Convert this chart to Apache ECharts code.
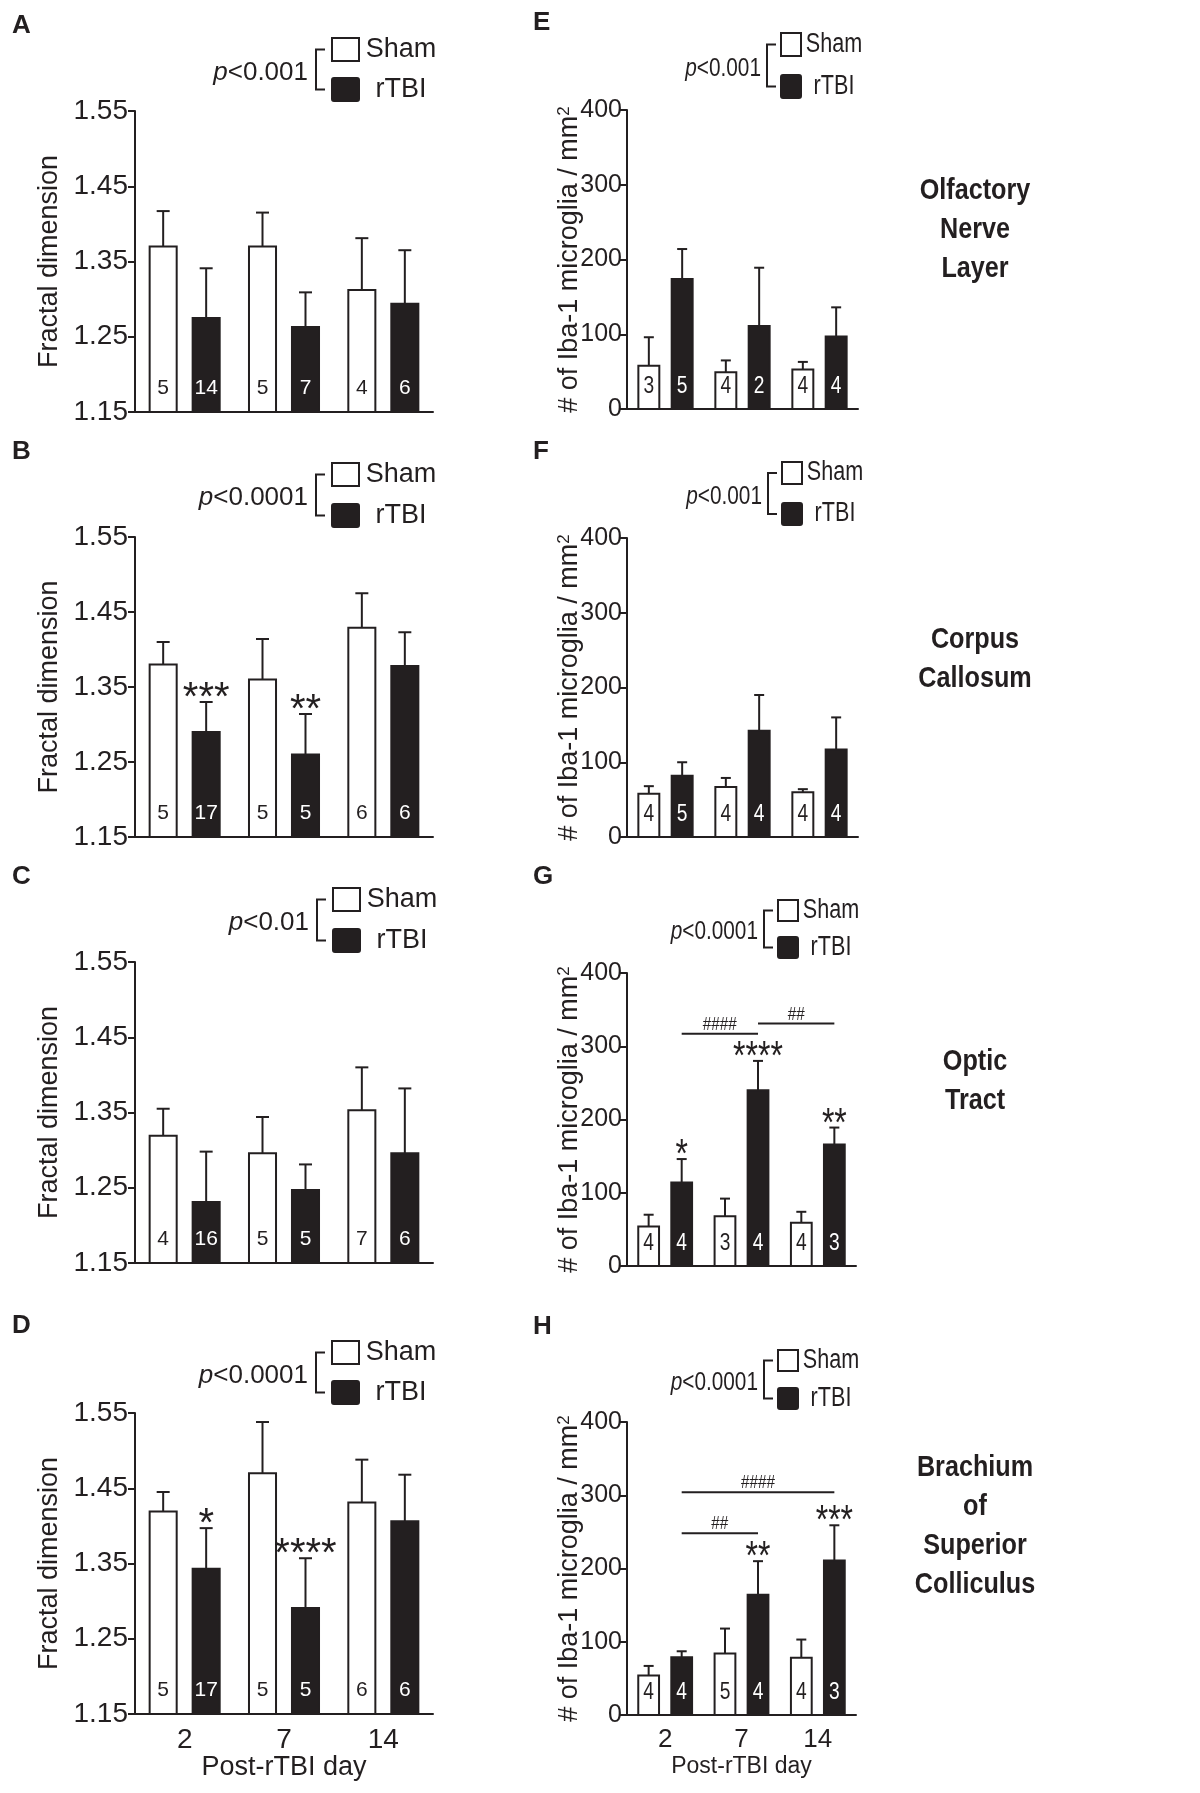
<!DOCTYPE html>
<html><head><meta charset="utf-8">
<script src="https://cdn.jsdelivr.net/npm/echarts@6/dist/echarts.min.js"></script>
<style>html,body{margin:0;padding:0;background:#fff}#c{width:1200px;height:1793px}</style>
</head><body><div id="c"></div>
<script>
// ---------- data ----------
const days = ['2', '7', '14'];
const fractalTicks = [1.15, 1.25, 1.35, 1.45, 1.55];
const countTicks = [0, 100, 200, 300, 400];

// A: Olfactory nerve layer, fractal dimension
const shamA = [1.370, 1.370, 1.312];
const shamErrA = [0.047, 0.045, 0.069];
const rtbiA = [1.275, 1.263, 1.294];
const rtbiErrA = [0.066, 0.046, 0.071];
const nShamA = [5, 5, 4];
const nRtbiA = [14, 7, 6];
const starsA = ['', '', ''];
const pA = '<0.001';

// B: Corpus callosum, fractal dimension
const shamB = [1.380, 1.360, 1.429];
const shamErrB = [0.030, 0.054, 0.046];
const rtbiB = [1.290, 1.260, 1.378];
const rtbiErrB = [0.040, 0.054, 0.045];
const nShamB = [5, 5, 6];
const nRtbiB = [17, 5, 6];
const starsB = ['***', '**', ''];
const pB = '<0.0001';

// C: Optic tract, fractal dimension
const shamC = [1.319, 1.296, 1.353];
const shamErrC = [0.036, 0.048, 0.057];
const rtbiC = [1.231, 1.247, 1.296];
const rtbiErrC = [0.067, 0.034, 0.086];
const nShamC = [4, 5, 7];
const nRtbiC = [16, 5, 6];
const starsC = ['', '', ''];
const pC = '<0.01';

// D: Brachium of superior colliculus, fractal dimension
const shamD = [1.419, 1.470, 1.431];
const shamErrD = [0.026, 0.068, 0.057];
const rtbiD = [1.343, 1.291, 1.406];
const rtbiErrD = [0.054, 0.066, 0.062];
const nShamD = [5, 5, 6];
const nRtbiD = [17, 5, 6];
const starsD = ['*', '****', ''];
const pD = '<0.0001';

// E: Olfactory nerve layer, Iba-1 count
const shamE = [58, 49, 53];
const shamErrE = [38, 16, 10];
const rtbiE = [174, 111, 97];
const rtbiErrE = [40, 78, 39];
const nShamE = [3, 4, 4];
const nRtbiE = [5, 2, 4];
const starsE = ['', '', ''];
const pE = '<0.001';

// F: Corpus callosum, Iba-1 count
const shamF = [58, 67, 60];
const shamErrF = [10, 12, 4];
const rtbiF = [82, 142, 117];
const rtbiErrF = [18, 48, 43];
const nShamF = [4, 4, 4];
const nRtbiF = [5, 4, 4];
const starsF = ['', '', ''];
const pF = '<0.001';

// G: Optic tract, Iba-1 count
const shamG = [54, 68, 59];
const shamErrG = [16, 24, 15];
const rtbiG = [114, 240, 166];
const rtbiErrG = [32, 40, 23];
const nShamG = [4, 3, 4];
const nRtbiG = [4, 4, 3];
const starsG = ['*', '****', '**'];
const pG = '<0.0001';
const bracketsG = [[0, 317, 1], [1, 331, 2]];
const bracketTextG = ['####', '##'];

// H: Brachium of superior colliculus, Iba-1 count
const shamH = [54, 84, 78];
const shamErrH = [13, 34, 25];
const rtbiH = [79, 164, 211];
const rtbiErrH = [8, 46, 48];
const nShamH = [4, 5, 4];
const nRtbiH = [4, 4, 3];
const starsH = ['', '**', '***'];
const pH = '<0.0001';
const bracketsH = [[0, 248, 1], [0, 304, 2]];
const bracketTextH = ['##', '####'];

const regionLabels = ['Olfactory\nNerve\nLayer', 'Corpus\nCallosum', 'Optic\nTract', 'Brachium\nof\nSuperior\nColliculus'];

// ---------- styling ----------
const INK = '#231f20';
const SANS = "'Liberation Sans', Arial, Helvetica, sans-serif";
const NS = 0.8; // horizontal squeeze used for the condensed lettering of the right column
const CAT_GAP = 0.295, BAR_GAP = 0.59;

const panels = [
  {L:'A', right:false, grid:{left:135, top:111, width:298, height:301}, sham:shamA, shamErr:shamErrA, rtbi:rtbiA, rtbiErr:rtbiErrA, nSham:nShamA, nRtbi:nRtbiA, stars:starsA, p:pA, lg:[332, 38, 40, 23, 27], letter:[12, 26], showX:false},
  {L:'B', right:false, grid:{left:135, top:537, width:298, height:300}, sham:shamB, shamErr:shamErrB, rtbi:rtbiB, rtbiErr:rtbiErrB, nSham:nShamB, nRtbi:nRtbiB, stars:starsB, p:pB, lg:[332, 463, 41, 23, 27], letter:[12, 452], showX:false},
  {L:'C', right:false, grid:{left:135, top:962, width:298, height:301}, sham:shamC, shamErr:shamErrC, rtbi:rtbiC, rtbiErr:rtbiErrC, nSham:nShamC, nRtbi:nRtbiC, stars:starsC, p:pC, lg:[333, 888, 41, 23, 27], letter:[12, 877], showX:false},
  {L:'D', right:false, grid:{left:135, top:1413, width:298, height:301}, sham:shamD, shamErr:shamErrD, rtbi:rtbiD, rtbiErr:rtbiErrD, nSham:nShamD, nRtbi:nRtbiD, stars:starsD, p:pD, lg:[332, 1341, 40, 23, 27], letter:[12, 1326], showX:true},
  {L:'E', right:true, grid:{left:627, top:110, width:231, height:299}, sham:shamE, shamErr:shamErrE, rtbi:rtbiE, rtbiErr:rtbiErrE, nSham:nShamE, nRtbi:nRtbiE, stars:starsE, p:pE, lg:[781, 33, 42, 23, 20], letter:[533, 23], showX:false, region:0, regionY:230},
  {L:'F', right:true, grid:{left:627, top:538, width:231, height:299}, sham:shamF, shamErr:shamErrF, rtbi:rtbiF, rtbiErr:rtbiErrF, nSham:nShamF, nRtbi:nRtbiF, stars:starsF, p:pF, lg:[782, 462, 41, 22, 20], letter:[533, 452], showX:false, region:1, regionY:659},
  {L:'G', right:true, grid:{left:627, top:973, width:229, height:293}, sham:shamG, shamErr:shamErrG, rtbi:rtbiG, rtbiErr:rtbiErrG, nSham:nShamG, nRtbi:nRtbiG, stars:starsG, p:pG, lg:[778, 900, 37, 21, 20], letter:[533, 877], showX:false, region:2, regionY:1081, brackets:bracketsG, bracketText:bracketTextG},
  {L:'H', right:true, grid:{left:627, top:1422, width:229, height:293}, sham:shamH, shamErr:shamErrH, rtbi:rtbiH, rtbiErr:rtbiErrH, nSham:nShamH, nRtbi:nRtbiH, stars:starsH, p:pH, lg:[778, 1350, 38, 21, 20], letter:[533, 1327], showX:true, region:3, regionY:1526, brackets:bracketsH, bracketText:bracketTextH}
];

function barRender(p, g) {
  const right = p.right;
  const sx = right ? NS : 1;
  const errs = g === 0 ? p.shamErr : p.rtbiErr;
  const ns = g === 0 ? p.nSham : p.nRtbi;
  const minV = right ? countTicks[0] : fractalTicks[0];
  return function (params, api) {
    const i = params.dataIndex;
    const cat = api.value(0), val = api.value(1);
    const W = api.size([1, 0])[0];
    const bw = W * (1 - CAT_GAP) / (2 + BAR_GAP);
    const off = (g === 0 ? -1 : 1) * bw * (1 + BAR_GAP) / 2;
    const base = api.coord([cat, minV]);
    const top = api.coord([cat, val]);
    const x = top[0] + off;
    const et = api.coord([cat, val + errs[i]]);
    const cap = right ? 10 : 13;
    const children = [
      {type:'line', shape:{x1:x, y1:top[1], x2:x, y2:et[1]}, style:{stroke:INK, lineWidth:2}},
      {type:'line', shape:{x1:x - cap / 2, y1:et[1], x2:x + cap / 2, y2:et[1]}, style:{stroke:INK, lineWidth:2}},
      {type:'rect', shape:{x:x - bw / 2, y:top[1], width:bw, height:base[1] - top[1]}, style:{fill:g === 0 ? '#fff' : INK, stroke:INK, lineWidth:2}},
      {type:'text', x:x, y:base[1] - (right ? 22.5 : 23.5), scaleX:sx, style:{text:String(ns[i]), fill:g === 0 ? INK : '#fff', fontSize:right ? 24 : 21, fontFamily:SANS, align:'center', verticalAlign:'middle'}}
    ];
    if (g === 1 && p.stars[i]) {
      children.push({type:'text', x:x, y:et[1] - 3, scaleX:sx, style:{text:p.stars[i], fill:INK, fontSize:right ? 40 : 40, fontFamily:SANS, align:'center', verticalAlign:'middle'}});
    }
    return {type:'group', children};
  };
}

function bracketRender(p) {
  return function (params, api) {
    const i = params.dataIndex;
    const a = api.value(0), y = api.value(1), b = api.value(2);
    const W = api.size([1, 0])[0];
    const bw = W * (1 - CAT_GAP) / (2 + BAR_GAP);
    const off = bw * (1 + BAR_GAP) / 2;
    const pa = api.coord([a, y]);
    const pb = api.coord([b, y]);
    const x1 = pa[0] + off, x2 = pb[0] + off;
    return {type:'group', children:[
      {type:'line', shape:{x1, y1:pa[1], x2, y2:pa[1]}, style:{stroke:INK, lineWidth:2}},
      {type:'text', x:(x1 + x2) / 2, y:pa[1] - 9, scaleX:0.85, style:{text:p.bracketText[i], fill:INK, fontSize:18, fontFamily:SANS, align:'center', verticalAlign:'middle'}}
    ]};
  };
}

const grids = [], xAxes = [], yAxes = [], series = [], graphics = [];

panels.forEach((p, gi) => {
  const right = p.right;
  const sx = right ? NS : 1;
  const ticks = right ? countTicks : fractalTicks;
  grids.push(Object.assign({containLabel:false}, p.grid));
  xAxes.push({
    type:'category', gridIndex:gi, data:days,
    axisLine:{show:true, lineStyle:{color:INK, width:2}},
    axisTick:{show:false},
    axisLabel:{show:p.showX, color:INK, fontFamily:SANS, fontSize:right ? 26 : 28, margin:right ? 12 : 12},
    name:p.showX ? 'Post-rTBI day' : '', nameLocation:'middle', nameGap:right ? 40 : 40,
    nameMoveOverlap:false,
    nameTextStyle:{color:INK, fontFamily:SANS, fontSize:right ? 23 : 27}
  });
  yAxes.push({
    type:'value', gridIndex:gi, min:ticks[0], max:ticks[ticks.length - 1],
    axisLine:{show:true, lineStyle:{color:INK, width:2}},
    axisTick:{show:true, length:7, lineStyle:{color:INK, width:2}, customValues:ticks},
    axisLabel:{customValues:ticks, formatter:right ? (v => String(Math.round(v))) : (v => v.toFixed(2)), color:INK, fontFamily:SANS, fontSize:right ? 25 : 28, margin:right ? 5 : 7},
    splitLine:{show:false},
    name:right ? '# of Iba-1 microglia / mm{s|2}' : 'Fractal dimension',
    nameLocation:'middle', nameGap:right ? 44 : 72,
    nameMoveOverlap:false,
    nameTextStyle:{color:INK, fontFamily:SANS, fontSize:27,
      rich:right ? {s:{fontSize:17, fontFamily:SANS, color:INK, verticalAlign:'top'}} : undefined}
  });
  [0, 1].forEach(g => {
    const vals = g === 0 ? p.sham : p.rtbi;
    series.push({type:'custom', xAxisIndex:gi, yAxisIndex:gi, z:3, clip:false,
      encode:{x:0, y:1},
      data:vals.map((v, i) => [i, v]), renderItem:barRender(p, g)});
  });
  if (p.brackets) {
    series.push({type:'custom', xAxisIndex:gi, yAxisIndex:gi, z:4, clip:false,
      encode:{x:0, y:1},
      data:p.brackets, renderItem:bracketRender(p)});
  }
  // legend
  const [x0, y0, dy, h, w] = p.lg;
  const fs = right ? 27 : 27;
  const tx = right ? x0 + 53 : x0 + 69;
  const pf = right ? 26 : 26;
  graphics.push(
    {type:'rect', shape:{x:x0, y:y0, width:w, height:h}, style:{fill:'#fff', stroke:INK, lineWidth:2}},
    {type:'rect', shape:{x:x0, y:y0 + dy, width:w, height:h, r:2}, style:{fill:INK, stroke:INK, lineWidth:2}},
    {type:'polyline', shape:{points:[[x0 - (right ? 5 : 7), y0 + h / 2], [x0 - (right ? 14 : 16), y0 + h / 2], [x0 - (right ? 14 : 16), y0 + dy + h / 2], [x0 - (right ? 5 : 7), y0 + dy + h / 2]]}, style:{stroke:INK, lineWidth:2, fill:null}},
    {type:'text', x:x0 - (right ? 20 : 24), y:y0 + (dy + h) / 2 + 3, scaleX:sx, style:{text:'{i|p}' + p.p, fill:INK, fontSize:pf, fontFamily:SANS, align:'right', verticalAlign:'middle',
      rich:{i:{fontStyle:'italic', fontSize:pf, fontFamily:SANS, fill:INK}}}},
    {type:'text', x:tx, y:y0 + h / 2, scaleX:sx, style:{text:'Sham', fill:INK, fontSize:fs, fontFamily:SANS, align:'center', verticalAlign:'middle'}},
    {type:'text', x:tx, y:y0 + dy + h / 2, scaleX:sx, style:{text:'rTBI', fill:INK, fontSize:fs, fontFamily:SANS, align:'center', verticalAlign:'middle'}},
    {type:'text', x:p.letter[0], y:p.letter[1], style:{text:p.L, fill:INK, fontSize:26, fontWeight:'bold', fontFamily:SANS, align:'left', verticalAlign:'middle'}}
  );
  if (p.region !== undefined) {
    graphics.push({type:'text', x:975, y:p.regionY, scaleX:0.84, style:{text:regionLabels[p.region], fill:INK, fontSize:30, fontWeight:'bold', fontFamily:SANS, lineHeight:39, align:'center', verticalAlign:'middle'}});
  }
});

const chart = echarts.init(document.getElementById('c'), null, {renderer:'canvas', width:1200, height:1793});
chart.setOption({
  backgroundColor:'#fff',
  animation:false,
  grid:grids, xAxis:xAxes, yAxis:yAxes, series:series, graphic:graphics
});
</script>
</body></html>
